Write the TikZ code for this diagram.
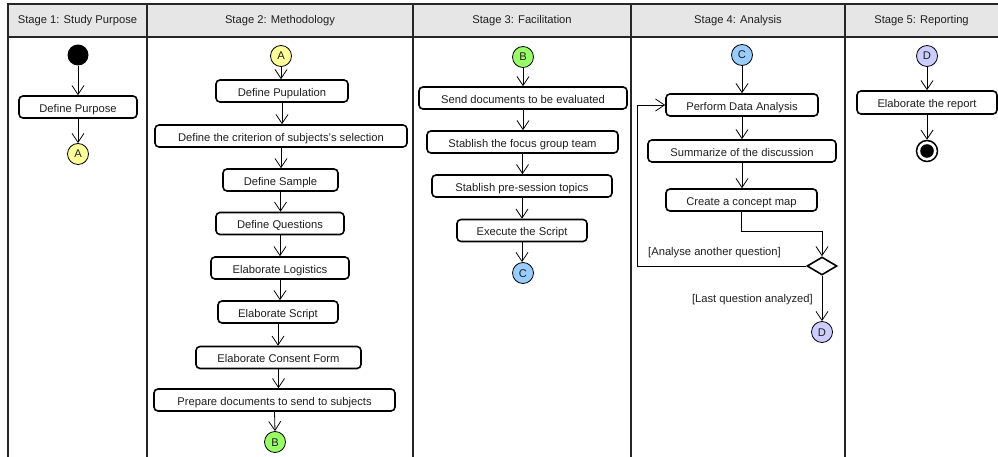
\documentclass[tikz,border=0pt]{standalone}
\usepackage{fontspec}
\setmainfont{Liberation Sans}
\usetikzlibrary{arrows.meta,shapes.geometric}
\definecolor{headfill}{HTML}{E6E6E6}
\definecolor{connA}{HTML}{FFFF99}
\definecolor{connB}{HTML}{99FF66}
\definecolor{connC}{HTML}{99CCFF}
\definecolor{connD}{HTML}{CCCCFF}
\begin{document}
\begin{tikzpicture}[x=1pt,y=-1pt,
  lab/.style={font=\fontsize{11.2}{13}\selectfont, text=black!88},
  act/.style={lab, draw, line width=1.6pt, rounded corners=4pt, fill=white,
              minimum height=22pt, inner sep=0pt, anchor=center,
              text height=10.4pt, text depth=0pt},
  conn/.style={lab, circle, draw, line width=0.8pt, minimum size=21pt, inner sep=0pt,
               text height=8pt, text depth=0pt},
  flow/.style={line width=0.8pt, -{Straight Barb[length=9pt,width=12pt,line width=0.8pt]}},
  lane/.style={line width=1.8pt, black!85},
  guard/.style={lab, inner sep=0pt}
]
\useasboundingbox (0,0) rectangle (998,457);

% swimlane frame
\fill[headfill] (8,4) rectangle (1004,37);
\draw[lane] (8,462) -- (8,4) -- (1004,4);
\draw[lane] (8,37) -- (1004,37);
\foreach \x in {147,413,631,845} \draw[lane] (\x,4) -- (\x,462);

\node[lab] (h1) at (77.5,21) {Stage 1: Study Purpose};
\node[lab] (h2) at (280,21) {Stage 2: Methodology};
\node[lab] (h3) at (522,21) {Stage 3: Facilitation};
\node[lab] (h4) at (738,21) {Stage 4: Analysis};
\node[lab] (h5) at (921.5,21) {Stage 5: Reporting};

% Stage 1
\node[circle, fill=black, minimum size=21pt, inner sep=0pt] (start) at (78,55) {};
\node[act, minimum width=118pt] (dp) at (78,107) {Define Purpose};
\node[conn, fill=connA] (ca1) at (78,154) {A};
\draw[flow] (start) -- (dp);
\draw[flow] (dp) -- (ca1);

% Stage 2
\node[conn, fill=connA] (ca2) at (281,56) {A};
\node[act, minimum width=132pt] (p1) at (282,91) {Define Pupulation};
\node[act, minimum width=252pt] (p2) at (281,136) {Define the criterion of subjects's selection};
\node[act, minimum width=115pt] (p3) at (280.5,180) {Define Sample};
\node[act, minimum width=128pt] (p4) at (280,223.5) {Define Questions};
\node[act, minimum width=138pt] (p5) at (280,268) {Elaborate Logistics};
\node[act, minimum width=120pt] (p6) at (278,312) {Elaborate Script};
\node[act, minimum width=165pt] (p7) at (278.5,357.5) {Elaborate Consent Form};
\node[act, minimum width=241pt] (p8) at (274.5,400) {Prepare documents to send to subjects};
\node[conn, fill=connB] (cb2) at (275,442) {B};
\draw[flow] (ca2.south) -- (ca2.south |- p1.north);
\draw[flow] (p1.south) -- (p1.south |- p2.north);
\draw[flow] (p2.south) -- (p2.south |- p3.north);
\draw[flow] (p3.south) -- (p3.south |- p4.north);
\draw[flow] (p4.south) -- (p4.south |- p5.north);
\draw[flow] (p5.south) -- (p5.south |- p6.north);
\draw[flow] (p6.south) -- (p6.south |- p7.north);
\draw[flow] (p7.south) -- (p7.south |- p8.north);
\draw[flow] (p8.south) -- (cb2.north);

% Stage 3
\node[conn, fill=connB] (cb3) at (523,57) {B};
\node[act, minimum width=208pt] (q1) at (523,98) {Send documents to be evaluated};
\node[act, minimum width=191pt] (q2) at (522.5,142) {Stablish the focus group team};
\node[act, minimum width=180pt] (q3) at (522,186) {Stablish pre-session topics};
\node[act, minimum width=130pt] (q4) at (522,230.5) {Execute the Script};
\node[conn, fill=connC] (cc3) at (523,273) {C};
\draw[flow] (cb3.south) -- (cb3.south |- q1.north);
\draw[flow] (q1.south) -- (q1.south |- q2.north);
\draw[flow] (q2.south) -- (q2.south |- q3.north);
\draw[flow] (q3.south) -- (q3.south |- q4.north);
\draw[flow] (q4.south) -- (q4.south |- cc3.north);

% Stage 4
\node[conn, fill=connC] (cc4) at (742,55) {C};
\node[act, minimum width=152pt] (r1) at (742,105) {Perform Data Analysis};
\node[act, minimum width=188pt] (r2) at (742,151) {Summarize of the discussion};
\node[act, minimum width=151pt] (r3) at (741.5,200) {Create a concept map};
\node[diamond, draw, line width=1.6pt, fill=white, minimum width=30pt, minimum height=18pt,
      aspect=1.67, inner sep=0pt] (dia) at (822,266) {};
\node[conn, fill=connD] (cd4) at (822,332) {D};
\coordinate (loop) at (637,266);
\draw[flow] (cc4.south) -- (cc4.south |- r1.north);
\draw[flow] (r1.south) -- (r1.south |- r2.north);
\draw[flow] (r2.south) -- (r2.south |- r3.north);
\draw[flow] (r3.south) -- ++(0,20) -| (dia.north);
\draw[flow] (dia.west) -- (loop) |- (r1.west);
\draw[flow] (dia.south) -- (cd4.north);
\node[guard, anchor=west] (g1) at (648,252.5) {[Analyse another question]};
\node[guard, anchor=east] (g2) at (813,300) {[Last question analyzed]};

% Stage 5
\node[conn, fill=connD] (cd5) at (927,56) {D};
\node[act, minimum width=140pt, minimum height=23pt] (s1) at (927,102.5) {Elaborate the report};
\node[circle, draw, line width=1.5pt, fill=white, minimum size=21pt, inner sep=0pt] (end) at (927,151) {};
\fill (end.center) circle (6.8pt);
\draw[flow] (cd5.south) -- (cd5.south |- s1.north);
\draw[flow] (s1.south) -- (s1.south |- end.north);
\end{tikzpicture}
\end{document}
